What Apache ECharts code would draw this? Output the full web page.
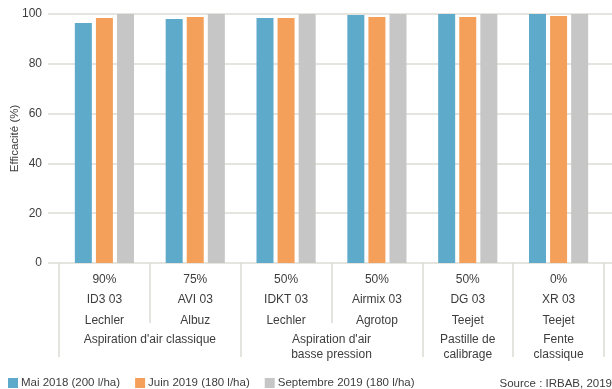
<!DOCTYPE html>
<html>
<head>
<meta charset="utf-8">
<script src="https://cdn.jsdelivr.net/npm/echarts@6/dist/echarts.min.js"></script>
<style>
  html, body { margin: 0; padding: 0; background: #fff; }
  #chart { width: 612px; height: 389px; }
</style>
</head>
<body>
<div id="chart"></div>
<script>
// données
const buses = ['90%\nID3 03\nLechler', '75%\nAVI 03\nAlbuz', '50%\nIDKT 03\nLechler',
  '50%\nAirmix 03\nAgrotop', '50%\nDG 03\nTeejet', '0%\nXR 03\nTeejet'];
const mai2018 = [96.4, 98.0, 98.4, 99.6, 100, 100];
const juin2019 = [98.4, 98.8, 98.4, 98.8, 98.8, 99.2];
const sept2019 = [100, 100, 100, 100, 100, 100];
const seriesNames = ['Mai 2018 (200 l/ha)', 'Juin 2019 (180 l/ha)', 'Septembre 2019 (180 l/ha)'];
// familles de buses (positions en demi-catégories)
const familles = { 2: "Aspiration d'air classique", 6: "Aspiration d'air\nbasse pression", 9: 'Pastille de\ncalibrage', 11: 'Fente\nclassique' };
const familleBornes = [0, 4, 8, 10, 12];

const FONT = '"Liberation Sans", Arial, sans-serif';
const FS = 11.5;
const TXT = '#3d3d3d';
const LINE = '#dcdbd3';
const colors = ['#5eaacb', '#f5a05a', '#c6c6c6'];

const myChart = echarts.init(document.getElementById('chart'));

const option = {
  animation: false,
  textStyle: { fontFamily: FONT },
  color: colors,
  grid: [
    { left: 48, right: 0, top: 14, bottom: 126, outerBoundsMode: 'none', containLabel: false },
    { left: 59, right: 8, top: 14, bottom: 126, outerBoundsMode: 'none', containLabel: false }
  ],
  legend: {
    left: 8, bottom: 0, padding: 0,
    itemWidth: 10, itemHeight: 10, itemGap: 15,
    icon: 'rect',
    textStyle: { fontFamily: FONT, fontSize: FS, color: TXT, padding: [0, 0, 0, -2] },
    data: seriesNames
  },
  xAxis: [
    { gridIndex: 0, type: 'value', show: false, min: 0, max: 1 },
    {
      gridIndex: 1, type: 'category', data: buses, position: 'bottom',
      axisLine: { show: false },
      axisTick: { show: true, length: 60, lineStyle: { color: LINE, width: 1.5 } },
      axisLabel: { fontFamily: FONT, fontSize: 12, color: TXT, lineHeight: 20.5, margin: 6, interval: 0 }
    },
    {
      gridIndex: 1, type: 'category', boundaryGap: false, position: 'bottom', offset: 0,
      data: Array.from({ length: 13 }, (_, i) => String(i)),
      axisLine: { show: false },
      axisTick: {
        show: true, length: 94, lineStyle: { color: LINE, width: 1.5 },
        interval: (i) => familleBornes.includes(i)
      },
      axisLabel: {
        interval: 0, fontFamily: FONT, fontSize: 12, color: TXT, lineHeight: 15, margin: 69,
        formatter: (v) => familles[Number(v)] || ''
      }
    }
  ],
  yAxis: [
    {
      gridIndex: 0, type: 'value', min: 0, max: 100, interval: 20,
      name: 'Efficacité (%)', nameLocation: 'middle', nameGap: 27, nameMoveOverlap: false,
      nameTextStyle: { fontFamily: FONT, fontSize: FS, color: TXT },
      axisLine: { show: false }, axisTick: { show: false },
      axisLabel: { fontFamily: FONT, fontSize: 12, color: TXT, margin: 6 },
      splitLine: { lineStyle: { color: LINE, width: 1.5 } }
    },
    { gridIndex: 1, type: 'value', min: 0, max: 100, show: false }
  ],
  series: [
    { name: seriesNames[0], type: 'bar', xAxisIndex: 1, yAxisIndex: 1, data: mai2018, barWidth: 17, barGap: '24%' },
    { name: seriesNames[1], type: 'bar', xAxisIndex: 1, yAxisIndex: 1, data: juin2019, barWidth: 17, barGap: '24%' },
    { name: seriesNames[2], type: 'bar', xAxisIndex: 1, yAxisIndex: 1, data: sept2019, barWidth: 17, barGap: '24%' }
  ],
  graphic: [{
    type: 'text', right: 0, bottom: -1,
    style: { text: 'Source : IRBAB, 2019', font: FS + 'px ' + FONT, fill: TXT }
  }]
};

myChart.setOption(option);
</script>
</body>
</html>
